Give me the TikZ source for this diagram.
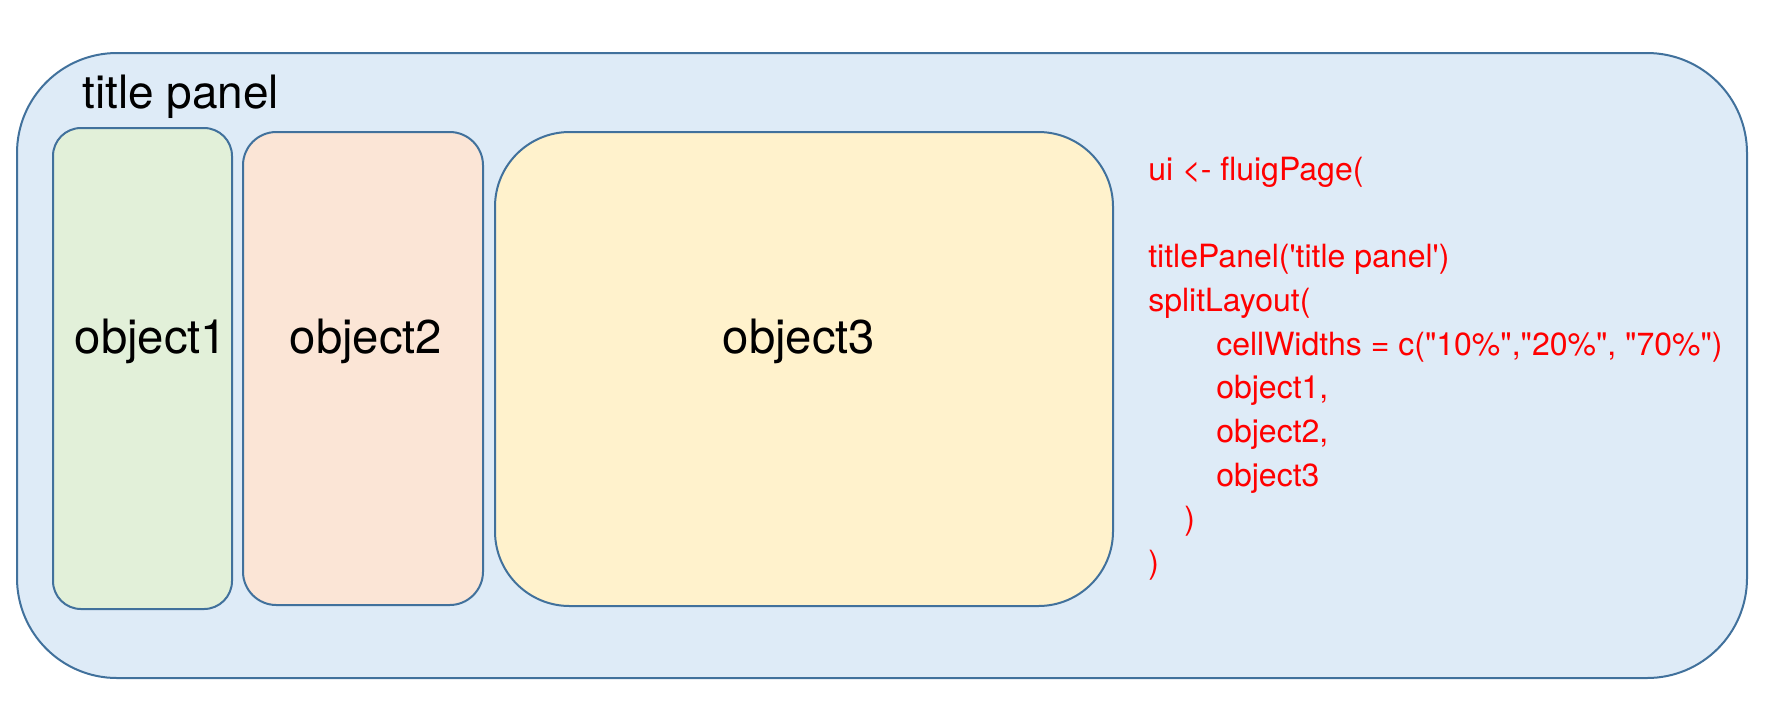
\documentclass[tikz,border=0pt]{standalone}
\usepackage{fontspec}
\setmainfont{TeX Gyre Heros}
\newfontfamily\codefont{TeX Gyre Heros}[Ligatures=TeXOff]
\definecolor{edgeblue}{HTML}{41719C}
\definecolor{panelfill}{HTML}{DEEBF7}
\definecolor{greenfill}{HTML}{E2F0D9}
\definecolor{orangefill}{HTML}{FBE5D6}
\definecolor{yellowfill}{HTML}{FFF2CC}
\definecolor{codered}{HTML}{FF0000}
\begin{document}
\begin{tikzpicture}[x=0.75pt,y=-0.75pt,
  boxstyle/.style={draw=edgeblue, line width=1.5pt},
  biglabel/.style={font=\fontsize{35.5}{42}\selectfont, text=black, inner sep=0pt},
  titlelabel/.style={font=\fontsize{34.5}{41}\selectfont, text=black, inner sep=0pt},
  codeline/.style={font=\codefont\fontsize{24}{29}\selectfont, text=codered, anchor=base west, inner sep=0pt}]
\useasboundingbox (0,0) rectangle (1776,726);
% outer panel
\path[boxstyle, fill=panelfill, rounded corners=75pt] (17,53) rectangle (1747,678);
% objects
\path[boxstyle, fill=greenfill, rounded corners=21pt] (53,128) rectangle (232,609);
\path[boxstyle, fill=orangefill, rounded corners=25pt] (243,132) rectangle (483,605);
\path[boxstyle, fill=yellowfill, rounded corners=56pt] (495,132) rectangle (1113,606);
% labels
\node[titlelabel, anchor=base west] (title) at (82,108) {title panel};
\node[biglabel, anchor=base] (o1) at (151,353) {object1};
\node[biglabel, anchor=base] (o2) at (366,353) {object2};
\node[biglabel, anchor=base] (o3) at (799,353) {object3};
% code
\node[codeline] (c1) at (1148,180) {ui <- fluigPage(};
\node[codeline] (c2) at (1148,267) {titlePanel('title panel')};
\node[codeline] (c3) at (1148,311) {splitLayout(};
\node[codeline] (c4) at (1216,355) {cellWidths = c("10\%","20\%", "70\%")};
\node[codeline] (c5) at (1216,398) {object1,};
\node[codeline] (c6) at (1216,442) {object2,};
\node[codeline] (c7) at (1216,486) {object3};
\node[codeline] (c8) at (1184,529) {)};
\node[codeline] (c9) at (1148,573) {)};
\end{tikzpicture}
\end{document}
